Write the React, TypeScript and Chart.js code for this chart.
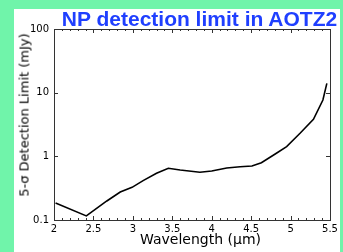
import React, { useEffect, useRef } from "react";
import { Chart, registerables } from "chart.js";

Chart.register(...registerables);

const wavelengths = [2.02, 2.41, 2.67, 2.84, 2.99, 3.13, 3.3, 3.45, 3.6, 3.85, 4.0, 4.19, 4.36, 4.51, 4.63, 4.82, 4.95, 5.12, 5.29, 5.41, 5.46];
const limits = [0.185, 0.116, 0.199, 0.275, 0.326, 0.415, 0.542, 0.649, 0.61, 0.561, 0.589, 0.656, 0.688, 0.705, 0.795, 1.12, 1.42, 2.3, 3.82, 7.67, 14.0];
const yTicks = [0.1, 1, 10, 100];
const titleText = "NP detection limit in AOTZ2";
const xTitle = "Wavelength (μm)";
const yTitle = "5-σ Detection Limit (mJy)";

const frameTicks = {
  id: "frameTicks",
  afterDatasetsDraw(chart: any) {
    const { ctx, chartArea: a, scales } = chart;
    const x = scales.x;
    const y = scales.y;
    ctx.save();
    ctx.strokeStyle = "#333";
    ctx.lineWidth = 1;
    ctx.strokeRect(Math.round(a.left) + 0.5, Math.round(a.top) + 0.5, Math.round(a.right - a.left), Math.round(a.bottom - a.top));
    ctx.beginPath();
    for (let i = 20; i <= 55; i++) {
      const v = i / 10;
      const px = Math.round(x.getPixelForValue(v)) + 0.5;
      const len = i % 5 === 0 ? 4 : 2;
      ctx.moveTo(px, a.bottom);
      ctx.lineTo(px, a.bottom - len);
      ctx.moveTo(px, a.top);
      ctx.lineTo(px, a.top + len);
    }
    for (const t of yTicks) {
      const py = Math.round(y.getPixelForValue(t)) + 0.5;
      ctx.moveTo(a.left, py);
      ctx.lineTo(a.left + 4, py);
      ctx.moveTo(a.right, py);
      ctx.lineTo(a.right - 4, py);
    }
    ctx.stroke();
    ctx.restore();
  },
};

export default function App() {
  const ref = useRef<HTMLCanvasElement>(null);
  useEffect(() => {
    if (!ref.current) return;
    const chart = new Chart(ref.current, {
      type: "line",
      data: {
        datasets: [
          {
            data: wavelengths.map((w, i) => ({ x: w, y: limits[i] })),
            borderColor: "#000",
            borderWidth: 1.6,
            pointRadius: 0,
            tension: 0,
            fill: false,
          },
        ],
      },
      options: {
        animation: false,
        responsive: false,
        devicePixelRatio: 1,
        layout: { padding: { left: 0, top: 29, right: 13, bottom: 0 } },
        plugins: { legend: { display: false }, tooltip: { enabled: false }, title: { display: false } },
        scales: {
          x: {
            type: "linear",
            min: 2,
            max: 5.5,
            grid: { display: false, drawTicks: false },
            border: { display: false },
            ticks: {
              stepSize: 0.5,
              padding: 3,
              color: "#000",
              font: { family: "DejaVu Sans", size: 10 },
              maxRotation: 0,
              callback: (v: any) => String(v),
            },
            afterFit: (s: any) => {
              s.height = 32;
            },
          },
          y: {
            type: "logarithmic",
            min: 0.1,
            max: 100,
            grid: { display: false, drawTicks: false },
            border: { display: false },
            afterBuildTicks: (s: any) => {
              s.ticks = yTicks.map((v) => ({ value: v }));
            },
            ticks: {
              padding: 5,
              color: "#000",
              font: { family: "DejaVu Sans", size: 10 },
              callback: (v: any) => String(v),
            },
            afterFit: (s: any) => {
              s.width = 54;
            },
          },
        },
      },
      plugins: [frameTicks],
    });
    return () => chart.destroy();
  }, []);

  return (
    <div style={{ position: "fixed", left: 0, top: 0, width: 343, height: 252, background: "#70F4AA", overflow: "hidden" }}>
      <div style={{ position: "absolute", left: 14, top: 9, width: 326, height: 243, background: "#fff" }} />
      <canvas ref={ref} width={343} height={252} style={{ position: "absolute", left: 0, top: 0, width: 343, height: 252 }} />
      <div
        style={{
          position: "absolute",
          left: 199.5,
          top: 8,
          transform: "translateX(-50%)",
          whiteSpace: "nowrap",
          font: "bold 21px 'Liberation Sans', Arial, sans-serif",
          lineHeight: "21px",
          color: "#1f3fff",
        }}
      >
        {titleText}
      </div>
      <div
        style={{
          position: "absolute",
          left: 200.5,
          top: 231.7,
          transform: "translateX(-50%)",
          whiteSpace: "nowrap",
          font: "14px 'DejaVu Sans', sans-serif",
          lineHeight: "14px",
          color: "#000",
        }}
      >
        {xTitle}
      </div>
      <div
        style={{
          position: "absolute",
          left: 23.5,
          top: 114.5,
          transform: "translate(-50%, -50%) rotate(-90deg)",
          whiteSpace: "nowrap",
          font: "13px 'DejaVu Sans', sans-serif",
          lineHeight: "13px",
          color: "#000",
        }}
      >
        {yTitle}
      </div>
    </div>
  );
}
